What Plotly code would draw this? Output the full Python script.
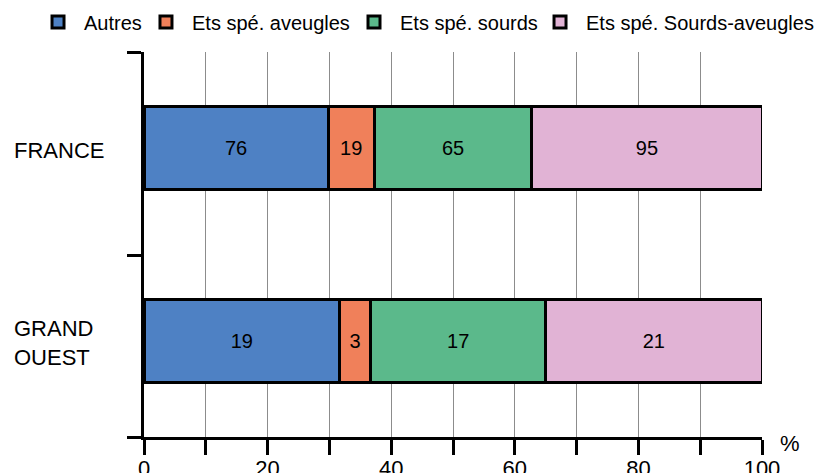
import plotly.graph_objects as go

categories = ["FRANCE", "GRAND OUEST"]
category_labels = ["FRANCE", "GRAND<br>OUEST"]
series_names = ["Autres", "Ets spé. aveugles", "Ets spé. sourds", "Ets spé. Sourds-aveugles"]
autres = [76, 19]
aveugles = [19, 3]
sourds = [65, 17]
sourds_aveugles = [95, 21]
colors = ["#4E81C4", "#F0805A", "#5BB98B", "#E1B3D5"]
x_ticks = [0, 20, 40, 60, 80, 100]

FONT = "Liberation Sans, Arial, sans-serif"
legend_ids = ["legend", "legend2", "legend3", "legend4"]
legend_x = [-0.1812, -0.0065, 0.3301, 0.6311]

fig = go.Figure()
for name, vals, col, lg in zip(series_names, [autres, aveugles, sourds, sourds_aveugles], colors, legend_ids):
    fig.add_trace(go.Bar(
        y=categories, x=vals, name=name, orientation="h",
        marker=dict(color=col, line=dict(color="black", width=3)),
        text=[str(v) for v in vals], textposition="inside",
        insidetextanchor="middle",
        textfont=dict(size=20, color="black", family=FONT),
        width=0.43, legend=lg, showlegend=True,
    ))

legend_common = dict(orientation="h", xanchor="left", y=1.078, yanchor="middle",
                     font=dict(size=20, family=FONT), bgcolor="rgba(0,0,0,0)",
                     itemwidth=42, visible=True)

fig.update_layout(
    width=816, height=473,
    showlegend=True,
    barmode="stack", barnorm="percent",
    margin=dict(l=144, r=54, t=52, b=36, autoexpand=False),
    paper_bgcolor="white", plot_bgcolor="white",
    font=dict(family=FONT, color="black", size=22),
    uniformtext=dict(mode=False),
    **{lg: dict(x=lx, **legend_common) for lg, lx in zip(legend_ids, legend_x)},
)

fig.update_xaxes(
    range=[0, 100], tickvals=x_ticks, ticktext=[str(v) for v in x_ticks],
    showline=True, linewidth=3, linecolor="black",
    ticks="outside", ticklen=15, tickwidth=3, tickcolor="black",
    showgrid=True, gridcolor="#8c8c8c", gridwidth=1,
    minor=dict(dtick=10, ticks="outside", ticklen=15, tickwidth=3, tickcolor="black",
               showgrid=True, gridcolor="#8c8c8c", gridwidth=1),
    tickfont=dict(size=22, family=FONT), zeroline=False, ticklabelstandoff=-5,
)
fig.update_yaxes(
    type="category", range=[1.5, -0.5],
    showline=True, linewidth=3, linecolor="black",
    tickmode="array", tickvals=[-0.5, 0.555, 1.5], ticktext=["", "", ""],
    ticks="outside", ticklen=14, tickwidth=3, tickcolor="black",
    showticklabels=False, showgrid=False, zeroline=False,
)

for cat, lab in zip(categories, category_labels):
    fig.add_annotation(x=-0.2136, xref="paper", y=cat, yref="y", text=lab,
                       showarrow=False, xanchor="left", yanchor="middle", align="left",
                       yshift=-2, font=dict(size=22, family=FONT))

fig.add_annotation(x=1.045, xref="paper", y=-0.018, yref="paper", text="%",
                   showarrow=False, xanchor="center", yanchor="middle",
                   font=dict(size=22, family=FONT))

page_css = ("document.documentElement.style.margin='0';"
            "document.documentElement.style.overflow='hidden';"
            "document.body.style.margin='0';"
            "document.body.style.overflow='hidden';")

fig.write_html("out.html", post_script=page_css, config={"displayModeBar": False})
